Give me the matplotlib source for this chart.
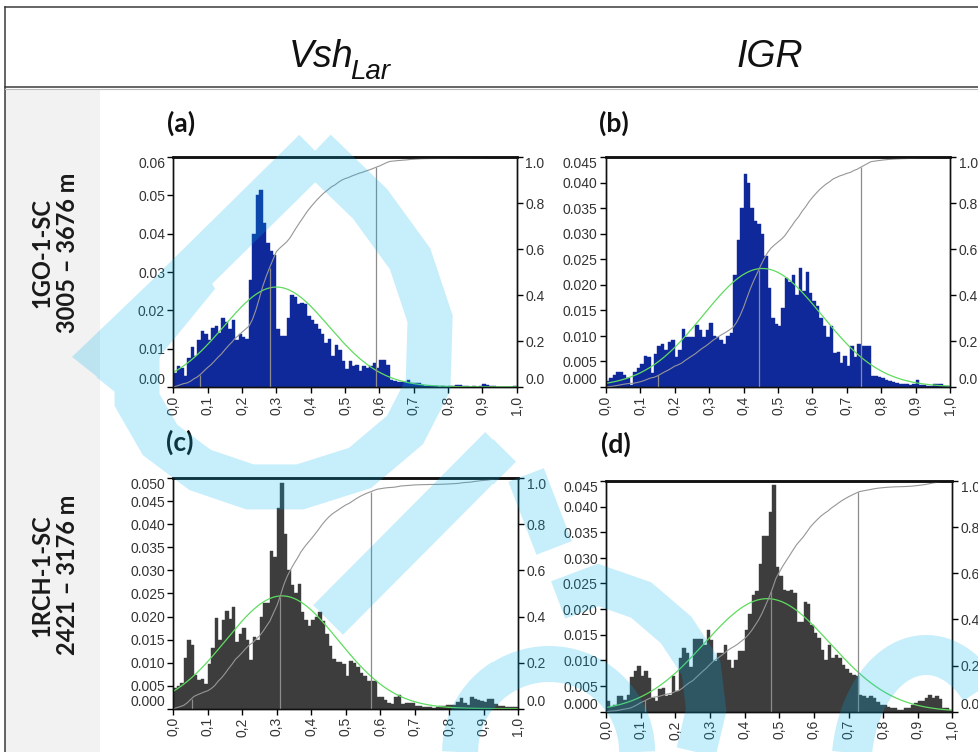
import numpy as np
import matplotlib
matplotlib.use("Agg")
import matplotlib.pyplot as plt
from matplotlib.patches import Rectangle, Polygon

plt.rcParams['font.family'] = ['Liberation Sans', 'DejaVu Sans']

W, H, DPI = 978, 752, 100
FIGSIZE = ((W + 0.2) / DPI, (H + 0.2) / DPI)

# ---- data: relative frequency per 0.01 bin (0.00 .. 1.00) ----
bin_edges = np.round(np.arange(0, 1.001, 0.01), 2)

vsh_1go = [
    0.0037, 0.0054, 0.0050, 0.0028, 0.0075, 0.0104, 0.0080, 0.0123, 0.0145, 0.0137,
    0.0123, 0.0154, 0.0160, 0.0140, 0.0180, 0.0170, 0.0150, 0.0175, 0.0123, 0.0137,
    0.0130, 0.0125, 0.0280, 0.0400, 0.0500, 0.0515, 0.0428, 0.0377, 0.0354, 0.0345,
    0.0151, 0.0132, 0.0132, 0.0180, 0.0240, 0.0236, 0.0217, 0.0219, 0.0217, 0.0184,
    0.0175, 0.0163, 0.0150, 0.0137, 0.0115, 0.0125, 0.0080, 0.0110, 0.0097, 0.0067,
    0.0047, 0.0067, 0.0054, 0.0058, 0.0041, 0.0054, 0.0050, 0.0054, 0.0063, 0.0050,
    0.0071, 0.0070, 0.0056, 0.0017, 0.0015, 0.0012, 0.0013, 0.0012, 0.0017, 0.0009,
    0.0010, 0.0009, 0.0006, 0.0003, 0.0002, 0.0002, 0.0002, 0.0001, 0.0002, 0.0001,
    0.0003, 0.0002, 0.0006, 0.0005, 0.0002, 0.0003, 0.0001, 0.0002, 0.0001, 0.0003,
    0.0007, 0.0005, 0.0002, 0.0002, 0.0001, 0.0001, 0.0001, 0.0001, 0.0001, 0.0003,
]
igr_1go = [
    0.0012, 0.0018, 0.0023, 0.0029, 0.0029, 0.0023, 0.0018, 0.0004, 0.0029, 0.0037,
    0.0044, 0.0061, 0.0058, 0.0027, 0.0065, 0.0081, 0.0085, 0.0072, 0.0088, 0.0092,
    0.0059, 0.0072, 0.0113, 0.0098, 0.0098, 0.0097, 0.0121, 0.0112, 0.0097, 0.0112,
    0.0125, 0.0099, 0.0097, 0.0092, 0.0085, 0.0099, 0.0105, 0.0220, 0.0288, 0.0350,
    0.0417, 0.0400, 0.0350, 0.0324, 0.0320, 0.0300, 0.0256, 0.0194, 0.0135, 0.0124,
    0.0120, 0.0155, 0.0213, 0.0205, 0.0220, 0.0180, 0.0233, 0.0187, 0.0226, 0.0184,
    0.0168, 0.0158, 0.0135, 0.0119, 0.0098, 0.0119, 0.0067, 0.0068, 0.0047, 0.0060,
    0.0040, 0.0080, 0.0059, 0.0085, 0.0080, 0.0080, 0.0080, 0.0021, 0.0021, 0.0020,
    0.0018, 0.0013, 0.0012, 0.0009, 0.0008, 0.0006, 0.0005, 0.0005, 0.0004, 0.0006,
    0.0014, 0.0004, 0.0003, 0.0002, 0.0002, 0.0006, 0.0006, 0.0006, 0.0002, 0.0002,
]
vsh_1rch = [
    0.0044, 0.0050, 0.0055, 0.0109, 0.0149, 0.0138, 0.0073, 0.0062, 0.0064, 0.0053,
    0.0098, 0.0131, 0.0196, 0.0150, 0.0192, 0.0212, 0.0194, 0.0220, 0.0145, 0.0163,
    0.0174, 0.0150, 0.0106, 0.0156, 0.0150, 0.0200, 0.0230, 0.0230, 0.0342, 0.0330,
    0.0435, 0.0490, 0.0380, 0.0300, 0.0268, 0.0250, 0.0270, 0.0210, 0.0192, 0.0180,
    0.0192, 0.0200, 0.0210, 0.0190, 0.0163, 0.0135, 0.0107, 0.0102, 0.0102, 0.0098,
    0.0072, 0.0104, 0.0100, 0.0090, 0.0077, 0.0070, 0.0059, 0.0059, 0.0060, 0.0026,
    0.0025, 0.0019, 0.0012, 0.0010, 0.0026, 0.0030, 0.0010, 0.0012, 0.0012, 0.0013,
    0.0005, 0.0005, 0.0003, 0.0004, 0.0003, 0.0002, 0.0003, 0.0006, 0.0006, 0.0007,
    0.0008, 0.0009, 0.0015, 0.0024, 0.0012, 0.0008, 0.0026, 0.0021, 0.0018, 0.0016,
    0.0014, 0.0022, 0.0022, 0.0011, 0.0005, 0.0005, 0.0004, 0.0004, 0.0004, 0.0004,
]
igr_1rch = [
    0.0021, 0.0010, 0.0014, 0.0030, 0.0030, 0.0023, 0.0033, 0.0067, 0.0079, 0.0090,
    0.0069, 0.0079, 0.0066, 0.0027, 0.0020, 0.0045, 0.0047, 0.0030, 0.0033, 0.0069,
    0.0040, 0.0105, 0.0125, 0.0114, 0.0088, 0.0142, 0.0142, 0.0142, 0.0130, 0.0160,
    0.0140, 0.0099, 0.0114, 0.0114, 0.0130, 0.0101, 0.0086, 0.0101, 0.0119, 0.0119,
    0.0160, 0.0190, 0.0228, 0.0235, 0.0288, 0.0342, 0.0342, 0.0390, 0.0443, 0.0282,
    0.0265, 0.0238, 0.0235, 0.0238, 0.0231, 0.0175, 0.0175, 0.0214, 0.0210, 0.0170,
    0.0153, 0.0144, 0.0120, 0.0101, 0.0130, 0.0105, 0.0111, 0.0105, 0.0092, 0.0084,
    0.0075, 0.0072, 0.0070, 0.0033, 0.0030, 0.0027, 0.0030, 0.0027, 0.0019, 0.0014,
    0.0014, 0.0010, 0.0008, 0.0007, 0.0004, 0.0004, 0.0007, 0.0008, 0.0014, 0.0017,
    0.0021, 0.0021, 0.0027, 0.0032, 0.0027, 0.0030, 0.0024, 0.0008, 0.0007, 0.0004,
]

# fitted normal (mean, std) and percentile lines (P5, P50, P95)
normal_fit = {'a': (0.300, 0.153), 'b': (0.455, 0.172), 'c': (0.315, 0.163), 'd': (0.465, 0.181)}
percentiles = {'a': [0.078, 0.28, 0.59], 'b': [0.152, 0.444, 0.741],
               'c': [0.053, 0.309, 0.573], 'd': [0.113, 0.477, 0.727]}
y_max = {'a': 0.06, 'b': 0.045, 'c': 0.05, 'd': 0.045}
y_step = {'a': 0.01, 'b': 0.005, 'c': 0.005, 'd': 0.005}
y_fmt = {'a': '%.2f', 'b': '%.3f', 'c': '%.3f', 'd': '%.3f'}

row_titles = [('1GO-1-SC', '3005 – 3676 m'), ('1RCH-1-SC', '2421 – 3176 m')]

NAVY = '#10299a'
DARK = '#3d3d3d'
panels = [
    ('a', vsh_1go, NAVY, (173.3, 157.3, 516.7, 387.0)),
    ('b', igr_1go, NAVY, (605.7, 157.3, 950.0, 387.0)),
    ('c', vsh_1rch, DARK, (173.3, 478.3, 518.3, 708.7)),
    ('d', igr_1rch, DARK, (606.0, 481.0, 952.3, 711.7)),
]

fig = plt.figure(figsize=FIGSIZE, dpi=DPI)
fig.patch.set_facecolor('white')

# table frame / background in pixel coordinates
bg = fig.add_axes([0, 0, 1, 1], zorder=0)
bg.set_xlim(0, W)
bg.set_ylim(H, 0)
bg.axis('off')
bg.add_patch(Rectangle((5, 89), 95, H - 89, color='#f2f2f2', lw=0))
bg.plot([4.5, W], [7.5, 7.5], color='#3a3a3a', lw=1.1)
bg.plot([4.5, 4.5], [7.5, H], color='#3a3a3a', lw=1.1)
bg.plot([4.5, W], [87.5, 87.5], color='#3a3a3a', lw=1.1)
bg.plot([4.5, W], [89.5, 89.5], color='#bbbbbb', lw=0.8)

# column headers, subscript placed right after the measured main text
vsh = bg.text(289, 67, 'Vsh', fontsize=27, style='italic', ha='left', va='baseline',
              color='#111111')
bg.text(736, 67, 'IGR', fontsize=27, style='italic', ha='left', va='baseline',
        color='#111111')
renderer = fig.canvas.get_renderer()
vsh_right = bg.transData.inverted().transform(
    (vsh.get_window_extent(renderer).x1, 0))[0]
bg.text(vsh_right - 4, 79, 'Lar', fontsize=20, style='italic', ha='left', va='baseline',
        color='#111111')

for (name, depth), yc in zip(row_titles, [253, 575]):
    bg.text(42, yc, name, rotation=90, ha='center', va='center', fontsize=17,
            family='Lato', weight='bold', color='#1a1a1a')
    bg.text(67, yc, depth, rotation=90, ha='center', va='center', fontsize=17,
            family='Lato', weight='bold', color='#1a1a1a')

label_pos = {'a': (181, 123), 'b': (614, 123), 'c': (180, 442), 'd': (616, 444)}
for key, (lx, ly) in label_pos.items():
    bg.text(lx, ly, '(%s)' % key, ha='center', va='center', fontsize=19,
            family='Lato', weight='bold', color='#111111')

for key, vals, color, (x0, y0, x1, y1) in panels:
    vals = np.array(vals)
    rect = [x0 / W, 1 - y1 / H, (x1 - x0) / W, (y1 - y0) / H]
    ax = fig.add_axes(rect, zorder=2)
    ax.bar(bin_edges[:-1], vals, width=0.01, align='edge', color=color,
           edgecolor=color, linewidth=0.3)
    mu, sd = normal_fit[key]
    xs = np.linspace(0, 1, 300)
    pdf = 0.01 * np.exp(-0.5 * ((xs - mu) / sd) ** 2) / (sd * np.sqrt(2 * np.pi))
    ax.plot(xs, pdf, color='#5fdc5f', lw=0.9, zorder=3)
    ax.set_xlim(0, 1)
    ax.set_ylim(0, y_max[key])
    yt = np.arange(0, y_max[key] + 1e-9, y_step[key])
    ax.set_yticks(yt)
    ax.set_yticklabels([y_fmt[key] % v for v in yt])
    ax.set_xticks(bin_edges[::10])
    ax.set_xticklabels([('%.1f' % v).replace('.', ',') for v in bin_edges[::10]], rotation=90)
    ax.tick_params(axis='both', direction='out', length=4, width=1, labelsize=10,
                   pad=2, labelcolor='#333333')

    ax2 = ax.twinx()
    cum = np.concatenate([[0], np.cumsum(vals)]) / vals.sum()
    ax2.plot(bin_edges, cum, color='#969696', lw=0.8)
    p = np.array(percentiles[key])
    ax2.vlines(p, 0, np.interp(p, bin_edges, cum), color='#8c8c8c', lw=0.9)
    ax2.set_ylim(0, 1)
    ax2.set_yticks(np.arange(0, 1.01, 0.2))
    ax2.set_yticklabels(['%.1f' % v for v in np.arange(0, 1.01, 0.2)])
    ax2.tick_params(axis='y', direction='out', length=4, width=1, labelsize=10,
                    pad=2, labelcolor='#333333')

    for a in (ax, ax2):
        for s in a.spines.values():
            s.set_color('#111111')
            s.set_linewidth(1.0)
        a.spines['top'].set_linewidth(1.8)
    # nudge end labels inside the axis range
    for a in (ax, ax2):
        labs = a.get_yticklabels()
        labs[0].set_verticalalignment('bottom')
        labs[-1].set_verticalalignment('top')

# ---- light blue watermark, rendered as a coverage mask then overlaid ----
mf = plt.figure(figsize=FIGSIZE, dpi=DPI)
ma = mf.add_axes([0, 0, 1, 1])
ma.set_xlim(0, W)
ma.set_ylim(H, 0)
ma.axis('off')
PX = 72.0 / DPI
ring = [(315, 152), (370, 205), (410, 260), (430, 320), (428, 385), (405, 430), (360, 468),
        (300, 487), (250, 487), (200, 470), (160, 440), (137, 400), (137, 355), (150, 318),
        (180, 285), (315, 152)]
strokes = [
    (ring, 45),
    ([(328, 620), (500, 447)], 42),
    ([(525, 475), (553, 548)], 38),
    ([(557, 600), (597, 585), (640, 600), (675, 630), (700, 668), (705, 710), (695, 752)], 40),
]
t = np.linspace(np.pi, 0, 40)
strokes.append((list(zip(548 - 88 * np.cos(t), 752 - 88 * np.sin(t))), 36))
t = np.linspace(np.pi, np.radians(40), 40)
strokes.append((list(zip(925 + 75 * np.cos(t), 770 - 115 * np.sin(t))), 40))
for pts, w in strokes:
    xs, ys = zip(*pts)
    ma.plot(xs, ys, color='k', lw=w * PX, solid_capstyle='butt', solid_joinstyle='miter')
ma.add_patch(Polygon([(72, 358), (190, 245), (215, 290), (125, 400)], color='k', lw=0))
mf.canvas.draw()
cov = 1 - np.asarray(mf.canvas.buffer_rgba())[:, :, 0].astype(float) / 255.0
plt.close(mf)

rgba = np.zeros(cov.shape + (4,))
rgba[..., 0], rgba[..., 1], rgba[..., 2] = 0.0, 0.70, 0.93
rgba[..., 3] = 0.22 * cov
over = fig.add_axes([0, 0, 1, 1], zorder=20)
over.imshow(rgba, extent=(0, W, H, 0), interpolation='nearest', aspect='auto')
over.set_xlim(0, W)
over.set_ylim(H, 0)
over.axis('off')

fig.savefig('out.png', dpi=DPI)
plt.close(fig)
